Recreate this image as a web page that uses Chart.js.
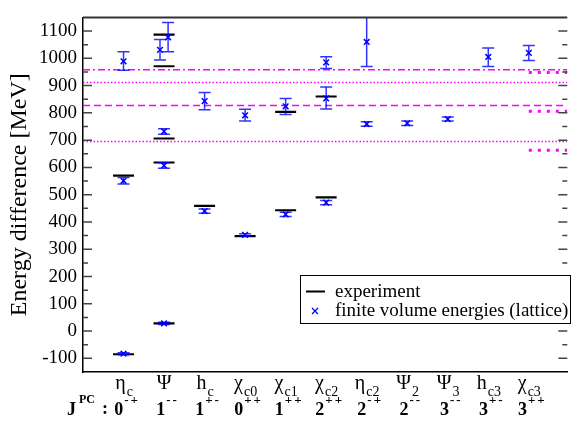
<!DOCTYPE html>
<html>
<head>
<meta charset="utf-8">
<script src="https://cdn.jsdelivr.net/npm/chart.js@4.4.1/dist/chart.umd.min.js"></script>
<style>
  body { margin: 0; background: #fff; }
  #wrap { width: 580px; height: 423px; }
</style>
</head>
<body>
<div id="wrap"><canvas id="spectrum" width="580" height="423"></canvas></div>
<script>
// states along the x axis (position 1..11)
const stateNames = ['η', 'Ψ', 'h', 'χ', 'χ', 'χ', 'η', 'Ψ', 'Ψ', 'h', 'χ'];
const stateSubs  = ['c', '', 'c', 'c0', 'c1', 'c2', 'c2', '2', '3', 'c3', 'c3'];
const jpcSpin    = ['0', '1', '1', '0', '1', '2', '2', '2', '3', '3', '3'];
const jpcSigns   = ['-+', '--', '+-', '++', '++', '++', '-+', '--', '--', '+-', '++'];

// y tick labels
const yTicks = [-100, 0, 100, 200, 300, 400, 500, 600, 700, 800, 900, 1000, 1100];

// experimental levels (black bars)
const expX = [1, 1, 2, 2, 2, 2, 2, 3, 4, 5, 5, 6, 6];
const expE = [-85, 570, 28, 618, 706, 971, 1087, 459, 348, 443, 804, 490, 860];

// finite volume energies with error bars (blue crosses)
const latX    = [1, 1, 1, 2, 2, 2, 1.9, 2.1, 3, 3, 4, 4, 5, 5, 6, 6, 6, 7, 7, 8, 9, 10, 11];
const latE    = [-83, 551, 989, 28, 607, 732, 1031, 1077, 440, 843, 353, 791, 428, 824, 471, 853, 985, 759, 1060, 762, 777, 1005, 1020];
const latLow  = [-87, 539, 956, 24, 597, 722, 994, 1024, 432, 811, 349, 770, 420, 794, 463, 814, 963, 751, 970, 754, 770, 970, 992];
const latHigh = [-79, 563, 1024, 32, 617, 742, 1069, 1131, 448, 875, 357, 813, 436, 853, 479, 895, 1006, 767, 1170, 770, 785, 1038, 1047];

// thresholds (magenta lines)
const thresholdE = [695, 827, 911, 958];
const rightThresholdE = [663, 806, 948];

const xMax = 11.95;
const serif = 'Liberation Serif, Times New Roman, serif';

function hLine(yv, x0, x1, dash, width, order) {
  return {
    type: 'line', showLine: true, pointRadius: 0, order: order,
    data: [{ x: x0, y: yv }, { x: x1, y: yv }],
    borderColor: '#ff00ff', borderWidth: width, borderDash: dash
  };
}

const thresholdDashes = [[1.5, 2], [7, 4], [1.5, 2], [7, 3, 2, 3]];
const thresholdSets = thresholdE.map((e, i) => hLine(e, 0, xMax, thresholdDashes[i], 1.5, 5));
const rightSets = rightThresholdE.map(e => hLine(e, 11, xMax, [3, 6], 3, 5));

// inner ticks, top frame, x labels and legend
const frame = {
  id: 'frame',
  afterDraw(chart) {
    const { ctx, chartArea: a, scales: { x, y } } = chart;
    ctx.save();
    ctx.strokeStyle = '#333';
    ctx.lineWidth = 2;
    ctx.beginPath();
    ctx.moveTo(a.left, a.top);
    ctx.lineTo(a.right, a.top);
    ctx.stroke();

    ctx.lineWidth = 1.5;
    ctx.strokeStyle = '#444';
    for (let v = -100; v < 1150; v += 50) {
      const py = y.getPixelForValue(v);
      const len = v % 100 === 0 ? 9 : 5;
      ctx.beginPath();
      ctx.moveTo(a.left, py); ctx.lineTo(a.left + len, py);
      ctx.moveTo(a.right, py); ctx.lineTo(a.right - len, py);
      ctx.stroke();
    }

    // state labels
    ctx.fillStyle = '#000';
    ctx.textBaseline = 'alphabetic';
    ctx.textAlign = 'left';
    stateNames.forEach((name, i) => {
      const cx = x.getPixelForValue(i + 1);
      ctx.font = '20px ' + serif;
      const w1 = ctx.measureText(name).width;
      ctx.font = '14px ' + serif;
      const w2 = ctx.measureText(stateSubs[i]).width;
      const x0 = cx - (w1 + w2) / 2;
      ctx.font = '20px ' + serif;
      ctx.fillText(name, x0, 389);
      ctx.font = '14px ' + serif;
      ctx.fillText(stateSubs[i], x0 + w1 + 1, 396);

      ctx.font = 'bold 18px ' + serif;
      const s1 = ctx.measureText(jpcSpin[i]).width;
      ctx.font = 'bold 13px ' + serif;
      const s2 = ctx.measureText(jpcSigns[i]).width + 2;
      const sx = cx + 2 - (s1 + s2) / 2;
      ctx.font = 'bold 18px ' + serif;
      ctx.fillText(jpcSpin[i], sx, 415);
      ctx.font = 'bold 13px ' + serif;
      let px = sx + s1 + 1;
      for (const ch of jpcSigns[i]) {
        ctx.fillText(ch, px, 404);
        px += ctx.measureText(ch).width + 2;
      }
    });
    ctx.font = 'bold 18px ' + serif;
    ctx.fillText('J', 67, 415);
    ctx.font = 'bold 12px ' + serif;
    ctx.fillText('PC', 79, 403);
    ctx.font = 'bold 18px ' + serif;
    ctx.fillText(':', 102, 414);

    // legend
    const ds = chart.data.datasets;
    ctx.fillStyle = '#fff';
    ctx.fillRect(300.5, 275.5, 270, 48);
    ctx.strokeStyle = '#000';
    ctx.lineWidth = 1;
    ctx.strokeRect(300.5, 275.5, 270, 48);
    ctx.lineWidth = 2;
    ctx.beginPath();
    ctx.moveTo(306, 291.5); ctx.lineTo(325, 291.5);
    ctx.stroke();
    ctx.strokeStyle = '#0000ff';
    ctx.lineWidth = 1.3;
    ctx.beginPath();
    ctx.moveTo(312, 308); ctx.lineTo(318, 314);
    ctx.moveTo(318, 308); ctx.lineTo(312, 314);
    ctx.stroke();
    ctx.fillStyle = '#000';
    ctx.font = '19px ' + serif;
    ctx.fillText(ds[0].label, 335, 297);
    ctx.fillText(ds[1].label, 335, 316);
    ctx.restore();
  }
};

const errorBars = {
  id: 'errorBars',
  afterDatasetsDraw(chart) {
    const { ctx, chartArea: a, scales: { x, y } } = chart;
    ctx.save();
    ctx.beginPath();
    ctx.rect(a.left, a.top, a.right - a.left, a.bottom - a.top);
    ctx.clip();
    ctx.strokeStyle = 'rgba(0,0,255,0.8)';
    ctx.lineWidth = 1.5;
    latX.forEach((v, i) => {
      const px = x.getPixelForValue(v);
      const lo = y.getPixelForValue(latLow[i]);
      const hi = y.getPixelForValue(latHigh[i]);
      ctx.beginPath();
      ctx.moveTo(px, lo); ctx.lineTo(px, hi);
      ctx.moveTo(px - 6, lo); ctx.lineTo(px + 6, lo);
      ctx.moveTo(px - 6, hi); ctx.lineTo(px + 6, hi);
      ctx.stroke();
    });
    ctx.restore();
  }
};

const ctx = document.getElementById('spectrum').getContext('2d');

new Chart(ctx, {
  type: 'scatter',
  data: {
    datasets: [
      {
        label: 'experiment',
        data: expX.map((v, i) => ({ x: v, y: expE[i] })),
        pointStyle: 'line', pointRadius: 10.5, pointBorderWidth: 2.2,
        borderColor: '#000', backgroundColor: '#000', order: 2
      },
      {
        label: 'finite volume energies (lattice)',
        data: latX.map((v, i) => ({ x: v, y: latE[i] })),
        pointStyle: 'crossRot', pointRadius: 4, pointBorderWidth: 1.5,
        borderColor: '#0000ff', backgroundColor: '#0000ff', order: 1
      },
      ...thresholdSets,
      ...rightSets
    ]
  },
  options: {
    responsive: false,
    animation: false,
    events: [],
    devicePixelRatio: 1,
    layout: { padding: { top: 9, right: 0, left: 0, bottom: 0 } },
    plugins: { legend: { display: false }, tooltip: { enabled: false } },
    scales: {
      x: {
        type: 'linear', min: 0, max: xMax,
        ticks: { display: false },
        grid: { display: false, drawTicks: false },
        border: { display: true, color: '#000', width: 1.5 },
        afterFit: s => { s.height = 51; }
      },
      y: {
        min: -150, max: 1150,
        afterBuildTicks: s => { s.ticks = yTicks.map(v => ({ value: v })); },
        afterFit: s => { s.width = 83; },
        ticks: {
          color: '#000', padding: 6,
          font: { family: serif, size: 19 },
          callback: v => String(v)
        },
        grid: { display: false, drawTicks: false },
        border: { display: true, color: '#000', width: 1.5 },
        title: {
          display: true, text: 'Energy difference [MeV]', color: '#000',
          font: { family: serif, size: 24 }, padding: { top: 5, bottom: 0 }
        }
      }
    }
  },
  plugins: [errorBars, frame]
});
</script>
</body>
</html>
